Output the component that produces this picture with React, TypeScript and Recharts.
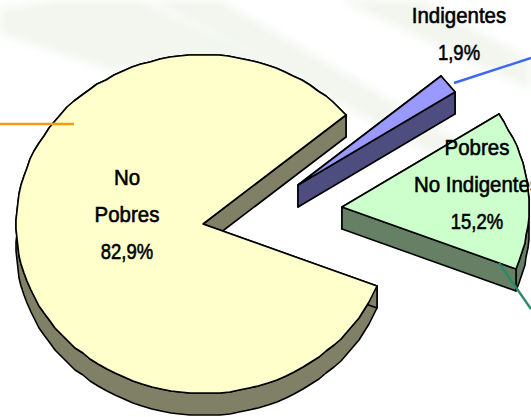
import { PieChart, Pie } from 'recharts'

const categories = ['No Pobres', 'Pobres No Indigentes', 'Indigentes']
const values = [82.9, 15.2, 1.9]
const valueLabels = ['82,9%', '15,2%', '1,9%']
const labelLines = [['No', 'Pobres'], ['Pobres', 'No Indigentes'], ['Indigentes']]

const topColors = ['#ffffcc', '#ccffcc', '#9999ff']
const sideColors = ['#808066', '#668066', '#4d4d80']
const leaderColors = ['#f59a12', '#2a8a68', '#3a68f0']

const tableData = categories.map((name, i) => ({ name, value: values[i], index: i }))

const RY_RATIO = 0.905
const DEPTH = 22
const explode = [[0, 0], [139, -17], [95, -39]]
const labelPos = [[127, 178], [477, 148], [459, 16]]
const leaders = [
  [0, 124, 74, 124],
  [499, 263, 531, 309],
  [454, 83, 531, 58],
]

function arcPoints(cx: number, cy: number, r: number, start: number, end: number) {
  const n = Math.max(2, Math.round(Math.abs(end - start) / 3))
  const pts: number[][] = []
  for (let i = 0; i <= n; i++) {
    const a = ((start + ((end - start) * i) / n) * Math.PI) / 180
    pts.push([Math.round(cx + r * Math.cos(a)), Math.round(cy - r * RY_RATIO * Math.sin(a))])
  }
  return pts
}

const toPath = (pts: number[][]) => 'M' + pts.map((p) => p[0] + ' ' + p[1]).join('L') + 'Z'

function SliceShape(props: any) {
  const { cx, cy, outerRadius, startAngle, endAngle, payload } = props
  const i = payload?.index ?? categories.indexOf(props.name)
  const x = cx + explode[i][0]
  const y = cy + explode[i][1]
  const arc = arcPoints(x, y, outerRadius, startAngle, endAngle)
  const down = (p: number[]) => [p[0], p[1] + DEPTH]
  const apex = [x, y]
  // the higher radial edge goes first so the lower one covers it
  const edges = [arc[0], arc[arc.length - 1]].sort((a, b) => a[1] - b[1])
  const rim = [...arc, ...arc.slice().reverse().map(down)]
  const common = { fill: sideColors[i], stroke: '#000', strokeWidth: 1.6, strokeLinejoin: 'round' as const }
  return (
    <g>
      <path d={toPath(rim)} {...common} />
      {edges.map((e) => (
        <path key={e.join()} d={toPath([apex, e, down(e), down(apex)])} {...common} />
      ))}
      <path d={toPath([apex, ...arc])} fill={topColors[i]} stroke="#000" strokeWidth={1.6} strokeLinejoin="round" />
    </g>
  )
}

function SliceLabel(props: any) {
  const i = props.index
  const [x, y] = labelPos[i]
  const lines = [...labelLines[i], valueLabels[i]]
  const l = leaders[i]
  return (
    <g>
      <line x1={l[0]} y1={l[1]} x2={l[2]} y2={l[3]} stroke={leaderColors[i]} strokeWidth={2.4} />
      {lines.map((t, k) => (
        <text
          key={t}
          transform={`translate(${x} ${y + k * 36.5}) scale(${k === lines.length - 1 ? 0.84 : 0.93} 1)`}
          textAnchor="middle"
          dominantBaseline="central"
          fontFamily="'Liberation Sans', sans-serif"
          fontSize={22}
          stroke="#000"
          strokeWidth={0.6}
          fill="#000"
        >
          {t}
        </text>
      ))}
    </g>
  )
}

const rays = [
  '0,8 0,34 110,70 300,72 140,0 60,0',
  '220,0 510,170 470,175 150,0',
  '340,0 531,90 531,60 420,0',
]

export default function App() {
  return (
    <div style={{ position: 'absolute', left: 0, top: 0, width: 531, height: 417, overflow: 'hidden', background: '#fff' }}>
      <svg width={531} height={417} style={{ position: 'absolute', left: 0, top: 0 }}>
        <defs>
          <filter id="soft">
            <feGaussianBlur stdDeviation="5" />
          </filter>
        </defs>
        {rays.map((r) => (
          <polygon key={r} points={r} fill="#f2f6ef" filter="url(#soft)" />
        ))}
      </svg>
      <div style={{ position: 'absolute', left: 0, top: 0 }}>
        <PieChart width={531} height={417} margin={{ top: 0, right: 0, bottom: 0, left: 0 }}>
          <Pie
            data={tableData}
            dataKey="value"
            nameKey="name"
            cx={203}
            cy={224}
            innerRadius={0}
            outerRadius={187}
            startAngle={40}
            endAngle={400}
            shape={SliceShape}
            label={SliceLabel}
            labelLine={false}
            isAnimationActive={false}
          />
        </PieChart>
      </div>
    </div>
  )
}
